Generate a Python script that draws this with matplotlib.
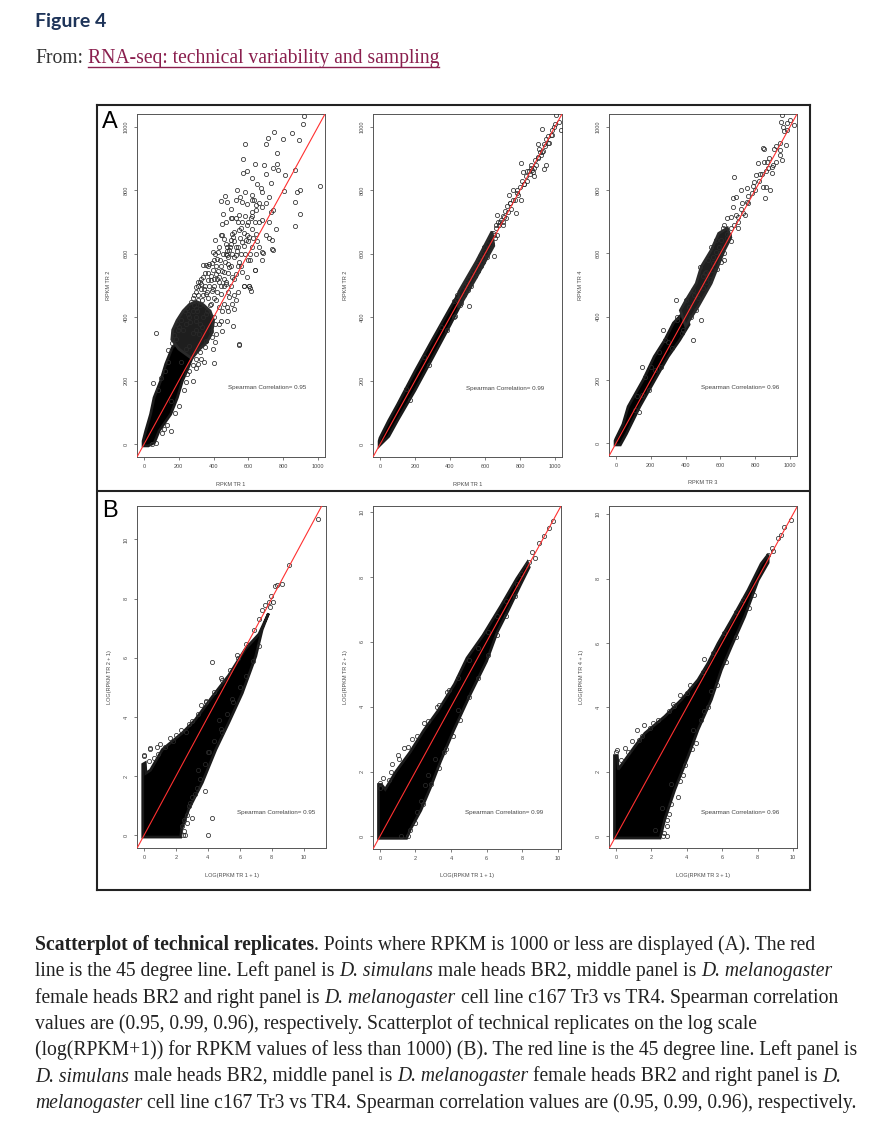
import numpy as np
import matplotlib.pyplot as plt

W, H = 880, 1126

# ---- panel A (raw RPKM) ----
a_ticks = [0, 200, 400, 600, 800, 1000]

a1_core_x = [-5, 25, 60, 87, 154, 192, 221, 250, 275, 230, 190, 163, 125, 96, 58, 38, 10, -5]
a1_core_y = [-5, -5, 5, 42, 95, 147, 200, 235, 270, 300, 320, 305, 253, 200, 147, 95, 42, 10]
a1_mid_x = [160, 200, 275, 320, 360, 390, 400, 380, 340, 300, 260, 225, 190, 165]
a1_mid_y = [330, 300, 270, 300, 320, 350, 390, 420, 440, 450, 440, 420, 390, 360]
a1_points = [
    (918, 1035), (914, 1008), (745, 982), (711, 966), (852, 979), (800, 961), (893, 958), (699, 947),
    (582, 946), (766, 916), (570, 899), (690, 879), (640, 884), (766, 884), (772, 863), (868, 863),
    (567, 855), (808, 848), (1011, 814), (732, 823), (534, 800), (579, 794), (672, 807), (680, 795),
    (881, 795), (899, 802), (803, 798), (466, 782), (441, 766), (565, 762), (634, 768), (646, 753),
    (868, 763), (508, 714), (527, 714), (456, 724), (739, 737), (898, 724), (866, 686), (761, 677),
    (734, 644), (676, 605), (738, 614), (596, 579), (638, 549), (575, 500), (607, 492), (603, 500),
    (510, 374), (546, 314), (351, 305), (408, 323), (67, 349), (402, 256), (54, 192), (157, 137),
    (115, 47), (105, 37),
    (460, 647), (498, 642), (479, 621), (527, 621), (565, 637), (603, 653), (623, 679), (594, 689),
    (546, 674), (508, 663), (479, 595), (517, 589), (546, 574), (489, 558), (450, 547), (412, 537),
    (383, 516), (431, 511), (469, 511), (508, 526), (565, 542), (594, 526), (393, 484), (441, 474),
    (489, 463), (354, 474), (335, 453), (383, 442), (431, 432), (479, 432), (527, 453), (307, 421),
    (354, 411), (297, 389), (259, 400), (402, 400), (441, 389), (335, 368), (383, 358), (412, 347),
    (354, 326), (316, 347), (450, 358), (479, 389), (508, 442), (623, 621), (642, 600), (680, 579),
    (546, 721), (498, 711), (450, 695), (565, 700), (613, 711), (623, 732), (642, 737), (680, 747),
    (680, 705), (718, 700), (728, 732), (623, 768), (594, 758), (527, 768), (479, 763), (623, 784),
    (661, 700), (421, 584),
    (138, 298), (192, 379), (198, 360), (237, 421), (250, 429), (298, 400), (269, 447), (308, 453),
    (298, 479), (327, 505), (308, 511), (337, 526), (365, 516), (356, 563), (375, 568), (404, 579),
    (337, 563), (394, 605), (423, 605), (410, 644), (471, 632), (510, 653), (490, 611), (538, 621),
    (529, 595), (481, 568), (462, 542), (433, 526), (529, 537), (471, 505), (394, 489), (413, 453),
    (462, 442), (515, 426), (548, 316), (390, 337), (356, 326), (394, 300), (308, 253), (346, 258),
    (260, 232), (279, 200), (240, 195), (154, 42), (67, 3), (48, 0), (577, 500), (606, 500),
    (615, 484), (635, 549), (683, 602), (740, 613), (587, 642), (644, 661), (577, 665),
    (160, 320), (175, 345), (185, 330), (200, 370), (215, 390), (225, 360), (240, 380), (255, 410),
    (265, 385), (280, 420), (290, 440), (300, 430), (310, 470), (320, 440), (330, 490), (340, 470),
    (350, 500), (360, 480), (365, 540), (375, 500), (385, 530), (395, 550), (405, 520), (415, 560),
    (425, 545), (435, 580), (445, 560), (455, 600), (465, 575), (475, 610), (485, 590), (495, 620),
    (505, 600), (520, 640), (535, 610), (550, 650), (560, 600), (575, 625), (590, 660), (610, 600),
    (625, 650), (280, 350), (300, 360), (320, 380), (340, 400), (360, 420), (380, 440), (400, 460),
    (420, 480), (440, 500), (460, 520), (480, 540), (500, 560), (240, 300), (260, 310), (215, 260),
    (250, 220), (280, 250), (300, 270), (320, 290), (330, 270), (300, 240), (120, 230), (140, 260),
    (100, 210), (80, 170), (200, 120), (230, 170), (180, 100), (130, 60),
    (430, 620), (450, 660), (470, 600), (500, 630), (520, 670), (540, 700), (560, 680), (580, 720),
    (600, 700), (620, 720), (640, 700), (660, 760), (700, 760), (720, 780), (650, 820), (620, 840),
    (700, 850), (740, 870), (590, 860), (550, 780), (500, 740), (470, 700), (440, 660), (410, 600),
    (390, 570), (370, 560), (350, 540), (330, 520), (310, 500), (290, 470), (280, 460), (300, 495),
    (320, 510), (345, 490), (370, 460), (400, 500), (420, 520), (460, 500), (480, 480), (500, 500),
    (520, 520), (540, 560), (560, 560), (580, 600), (600, 640), (610, 580), (650, 640), (660, 620),
    (700, 660), (720, 650), (540, 480), (520, 470), (480, 420), (450, 420), (430, 380), (410, 380),
]

a2_core_x = [-5, 50, 100, 200, 300, 400, 470, 460, 400, 300, 200, 100, 50, 0, -5]
a2_core_y = [-5, 25, 75, 170, 272, 375, 450, 485, 428, 330, 230, 125, 75, 20, 10]
a2_mid_x = [450, 550, 650, 640, 550, 450]
a2_mid_y = [430, 525, 625, 670, 575, 480]
a2_points = [
    (480, 470), (495, 505), (510, 520), (520, 500), (530, 545), (540, 530), (555, 560), (560, 545),
    (570, 590), (575, 560), (585, 600), (590, 575), (600, 620), (605, 600), (612, 590), (620, 640),
    (625, 615), (633, 656), (640, 630), (648, 665), (655, 650), (660, 680), (668, 660), (672, 700),
    (680, 690), (690, 705), (700, 720), (705, 690), (712, 735), (720, 712), (728, 750), (737, 784),
    (745, 760), (750, 740), (762, 800), (770, 770), (778, 728), (785, 800), (790, 785), (805, 887),
    (805, 770), (812, 830), (817, 858), (825, 820), (835, 845), (840, 830), (850, 860), (856, 850),
    (862, 880), (870, 865), (876, 858), (878, 844), (885, 895), (892, 880), (902, 944), (905, 905),
    (912, 920), (920, 910), (923, 992), (930, 925), (938, 947), (938, 868), (946, 879), (950, 960),
    (958, 950), (965, 949), (975, 974), (985, 990), (995, 1000), (1008, 1037), (1020, 1015),
    (1035, 990), (670, 721), (595, 621), (652, 593), (570, 592), (506, 435), (440, 470), (455, 440),
    (420, 450), (430, 405),
    (420, 400), (440, 455), (460, 445), (480, 500), (500, 485), (520, 535), (540, 560), (560, 580),
    (580, 570), (600, 590), (610, 630), (630, 620), (650, 660), (665, 690), (685, 700), (700, 700),
    (710, 715), (730, 730), (740, 760), (760, 770), (780, 790), (800, 810), (820, 820), (840, 860),
    (860, 870), (880, 870), (900, 900), (910, 930), (925, 920), (940, 940), (960, 970), (980, 975),
    (1000, 1010), (350, 370), (380, 360), (250, 275), (280, 250), (150, 175), (170, 140),
]

a3_core_x = [-5, 25, 60, 137, 223, 300, 366, 420, 400, 330, 280, 220, 156, 70, 40, 0, -5]
a3_core_y = [-5, -5, 30, 116, 200, 274, 326, 375, 420, 380, 326, 274, 200, 116, 60, 15, 8]
a3_mid_x = [400, 470, 547, 585, 623, 660, 640, 590, 547, 490, 461, 400, 370]
a3_mid_y = [370, 430, 505, 558, 610, 650, 680, 663, 610, 558, 505, 450, 420]
a3_points = [
    (956, 1037), (947, 1016), (981, 1013), (1023, 1005), (966, 987), (975, 942), (943, 926),
    (943, 911), (956, 895), (918, 889), (851, 928), (842, 934), (848, 889), (817, 886), (899, 874),
    (876, 868), (899, 853), (806, 847), (794, 826), (785, 813), (844, 811), (861, 808), (884, 800),
    (859, 774), (676, 840), (752, 805), (718, 800), (690, 779), (670, 774), (670, 747), (722, 758),
    (752, 763), (728, 726), (703, 716), (661, 716), (638, 711), (619, 689), (617, 679), (661, 679),
    (648, 658), (604, 642), (575, 642), (547, 621), (575, 605), (528, 579), (604, 574), (509, 537),
    (550, 547), (480, 558), (442, 484), (404, 453), (419, 432), (461, 421), (343, 453), (352, 400),
    (442, 326), (385, 358), (270, 358), (280, 326), (223, 232), (166, 211), (150, 242), (147, 153),
    (109, 105), (490, 389), (830, 850), (870, 890), (910, 930), (780, 790), (760, 780), (700, 700),
    (690, 720), (640, 650), (620, 600), (590, 620), (560, 590), (520, 510), (500, 530),
    (430, 400), (450, 470), (470, 460), (500, 490), (520, 540), (540, 520), (560, 570), (580, 550),
    (600, 600), (620, 580), (640, 660), (660, 640), (680, 690), (700, 680), (720, 740), (740, 720),
    (760, 760), (800, 800), (820, 830), (840, 850), (860, 860), (880, 900), (900, 880), (920, 940),
    (940, 950), (960, 1000), (980, 990), (1000, 1020), (300, 320), (320, 300), (350, 390),
    (380, 350), (250, 290), (260, 240), (200, 240), (190, 170), (120, 150), (130, 100),
]

# ---- panel B (log(RPKM + 1)) ----
b_ticks = [0, 2, 4, 6, 8, 10]

b1_core_x = [-0.08, -0.08, 0.08, 0.12, 0.4, 1.15, 2.4, 3.2, 4.3, 5.3, 6.35, 7.2, 7.8,
             7.4, 7.0, 6.15, 5.3, 4.5, 3.65, 2.8, 2.35, 2.3, -0.08]
b1_core_y = [-0.06, 2.4, 2.45, 2.1, 2.2, 2.9, 3.46, 3.9, 4.7, 5.4, 6.3, 6.8, 7.5,
             6.95, 6.05, 4.8, 3.8, 2.9, 1.78, 0.88, 0.2, -0.06, -0.06]
b1_points = [
    (10.9, 10.7), (9.06, 9.15), (8.65, 8.5), (8.33, 8.47), (8.23, 8.41), (7.98, 8.1), (7.8, 7.9),
    (7.6, 7.8), (7.4, 7.6), (7.2, 7.3), (8.1, 7.9), (7.9, 7.7), (4.23, 5.85), (4.69, 3.91),
    (3.85, 1.5), (4.23, 0.6), (3.98, 0.0), (2.56, 0.0), (2.45, 0.0), (0.38, 2.9), (0.0, 2.73),
    (0.0, 2.68), (0.4, 2.96), (0.8, 3.0), (1.0, 3.1), (1.6, 3.3), (2.0, 3.4), (2.8, 3.75),
    (3.6, 4.4), (2.8, 1.0), (3.0, 1.3), (3.3, 1.6), (3.0, 0.6), (2.5, 0.5), (2.4, 0.3), (2.7, 0.4),
    (4.9, 3.5), (5.5, 4.6), (3.9, 4.55), (4.8, 5.3), (5.8, 6.1), (3.4, 2.2), (4.0, 2.8),
    (0.3, 2.5), (0.6, 2.6), (0.9, 2.75), (1.3, 3.0), (1.8, 3.2), (2.3, 3.55), (2.6, 3.5),
    (3.0, 3.85), (3.4, 4.1), (3.9, 4.5), (4.4, 4.85), (4.9, 5.25), (5.4, 5.6), (5.9, 6.0),
    (6.4, 6.45), (6.9, 6.95), (2.5, 0.15), (2.7, 0.7), (2.9, 1.1), (3.2, 1.4), (3.5, 1.9),
    (3.8, 2.4), (4.1, 2.8), (4.4, 3.2), (4.8, 3.6), (5.2, 4.1), (5.6, 4.5), (6.0, 5.0), (6.4, 5.4),
    (6.8, 5.9), (7.2, 6.4),
]

b2_core_x = [-0.08, -0.08, 0.08, 0.3, 0.9, 1.7, 2.47, 3.3, 4.2, 4.9, 5.8, 6.8, 7.7, 8.3,
             8.4, 7.9, 7.2, 6.6, 6.0, 5.1, 4.15, 3.4, 2.84, 2.3, 1.7, 1.5, -0.08]
b2_core_y = [-0.06, 1.6, 1.6, 1.45, 2.0, 2.6, 3.27, 3.9, 4.7, 5.5, 6.2, 7.1, 7.95, 8.45,
             8.3, 7.75, 6.95, 6.3, 5.4, 4.4, 3.27, 2.3, 1.5, 0.8, 0.2, -0.06, -0.06]
b2_points = [
    (9.76, 9.73), (9.23, 9.28), (8.97, 9.04), (8.54, 8.76), (8.39, 8.45), (8.3, 8.36), (7.94, 8.08),
    (7.7, 7.77), (8.7, 8.6), (9.5, 9.5), (1.35, 2.73), (0.69, 2.23), (0.5, 1.74), (0.0, 1.64),
    (0.0, 1.5), (2.09, 0.74), (2.56, 1.58), (1.57, 0.0), (1.2, 0.0), (2.3, 1.1), (2.7, 1.9),
    (3.1, 2.4), (1.0, 2.5), (1.8, 3.0), (2.5, 3.5), (3.2, 4.0), (3.9, 4.5), (4.4, 3.9), (3.6, 2.6),
    (0.2, 1.8), (0.6, 2.0), (1.1, 2.4), (1.6, 2.75), (2.1, 3.1), (2.7, 3.55), (3.3, 4.05),
    (3.8, 4.45), (4.4, 4.9), (5.0, 5.45), (5.5, 5.8), (6.1, 6.3), (6.6, 6.8), (7.1, 7.25),
    (1.7, 0.2), (2.0, 0.4), (2.4, 1.0), (2.9, 1.6), (3.3, 2.1), (3.7, 2.7), (4.1, 3.1), (4.5, 3.6),
    (5.0, 4.3), (5.5, 4.9), (6.1, 5.6), (6.6, 6.2), (7.1, 6.8), (7.6, 7.4),
]

b3_core_x = [-0.08, -0.08, 0.08, 0.13, 1.07, 1.64, 2.76, 3.7, 4.64, 5.2, 5.77, 6.52, 7.46, 8.21,
             8.6, 8.6, 8.03, 7.27, 6.52, 5.96, 5.39, 4.64, 4.08, 3.33, 2.76, 2.5, -0.08]
b3_core_y = [-0.06, 2.5, 2.5, 2.07, 2.79, 3.2, 3.72, 4.24, 4.86, 5.37, 5.99, 6.71, 7.64, 8.47,
             8.75, 8.5, 7.95, 6.82, 5.89, 5.17, 4.24, 3.31, 2.48, 1.45, 0.52, -0.06, -0.06]
b3_points = [
    (9.87, 9.83), (9.49, 9.61), (9.15, 9.27), (8.82, 8.94), (8.59, 8.73), (8.9, 8.85), (9.3, 9.35),
    (4.36, 3.31), (1.45, 3.1), (0.51, 2.74), (0.04, 2.69), (0.0, 2.6), (2.58, 0.88), (2.67, 0.0),
    (2.86, 0.0), (2.2, 0.19), (3.14, 1.63), (0.9, 2.95), (1.2, 3.3), (1.6, 3.45), (2.1, 3.5),
    (3.0, 3.9), (3.2, 4.1), (3.6, 4.4), (4.2, 4.7), (2.9, 0.3), (3.0, 0.7), (3.5, 1.2), (3.8, 1.9),
    (4.5, 2.9), (5.0, 3.9), (5.4, 4.5), (5.0, 5.5),
    (0.3, 2.35), (0.7, 2.6), (1.3, 3.0), (1.9, 3.35), (2.4, 3.6), (3.3, 4.05), (4.0, 4.45),
    (4.9, 5.1), (5.5, 5.7), (6.1, 6.3), (6.8, 6.95), (7.2, 7.35), (2.7, 0.1), (2.9, 0.5),
    (3.1, 1.0), (3.6, 1.7), (3.9, 2.2), (4.3, 2.7), (4.8, 3.6), (5.2, 4.0), (5.7, 4.7), (6.2, 5.4),
    (6.8, 6.2), (7.5, 7.1), (7.8, 7.5),
]

spearman = [0.95, 0.99, 0.96]

panels = [
    dict(box=(137, 114, 325, 457), xlim=(-40, 1040), ylim=(-40, 1040), ticks=a_ticks,
         core=(a1_core_x, a1_core_y), mid=(a1_mid_x, a1_mid_y), pts=a1_points,
         xl='RPKM TR 1', yl='RPKM TR 2', r=spearman[0], tpos=(705, 178)),
    dict(box=(373, 114, 562, 457), xlim=(-40, 1040), ylim=(-40, 1040), ticks=a_ticks,
         core=(a2_core_x, a2_core_y), mid=(a2_mid_x, a2_mid_y), pts=a2_points,
         xl='RPKM TR 1', yl='RPKM TR 2', r=spearman[1], tpos=(712, 177)),
    dict(box=(609, 114, 797, 456), xlim=(-40, 1040), ylim=(-40, 1040), ticks=a_ticks,
         core=(a3_core_x, a3_core_y), mid=(a3_mid_x, a3_mid_y), pts=a3_points,
         xl='RPKM TR 3', yl='RPKM TR 4', r=spearman[2], tpos=(712, 177)),
    dict(box=(137, 506, 326, 848), xlim=(-0.44, 11.4), ylim=(-0.43, 11.13), ticks=b_ticks,
         core=(b1_core_x, b1_core_y), mid=None, pts=b1_points,
         xl='LOG(RPKM TR 1 + 1)', yl='LOG(RPKM TR 2 + 1)', r=spearman[0], tpos=(8.3, 0.77)),
    dict(box=(373, 506, 561, 849), xlim=(-0.39, 10.19), ylim=(-0.39, 10.19), ticks=b_ticks,
         core=(b2_core_x, b2_core_y), mid=None, pts=b2_points,
         xl='LOG(RPKM TR 1 + 1)', yl='LOG(RPKM TR 2 + 1)', r=spearman[1], tpos=(7.0, 0.75)),
    dict(box=(609, 506, 797, 848), xlim=(-0.39, 10.23), ylim=(-0.37, 10.26), ticks=b_ticks,
         core=(b3_core_x, b3_core_y), mid=None, pts=b3_points,
         xl='LOG(RPKM TR 3 + 1)', yl='LOG(RPKM TR 4 + 1)', r=spearman[2], tpos=(7.0, 0.72)),
]


def px_box(l, t, r, b):
    return [l / W, 1 - b / H, (r - l) / W, (b - t) / H]


fig = plt.figure(figsize=(W / 100, H / 100), dpi=100)
fig.patch.set_facecolor('white')
sans = 'Liberation Sans'
serif = 'Liberation Serif'
grey = '#4a4a4a'

# outer frame of the figure image
frame = fig.add_axes(px_box(97, 105, 810, 890))
frame.set_xticks([])
frame.set_yticks([])
frame.set_facecolor('none')
for s in frame.spines.values():
    s.set_linewidth(1.5)
    s.set_color('#222222')
frame.axhline((890 - 491) / (890 - 105), color='#222222', lw=1.5)

for p in panels:
    ax = fig.add_axes(px_box(*p['box']))
    ax.fill(*p['core'], fc='black', ec='#1a1a1a', lw=2.0, zorder=2)
    if p['mid'] is not None:
        ax.fill(*p['mid'], fc='#1e1e1e', ec='#2a2a2a', lw=2.0, zorder=2)
    pts = np.array(p['pts'], dtype=float)
    ax.plot(pts[:, 0], pts[:, 1], 'o', ms=3.0, mfc='none', mec='#2a2a2a', mew=0.55, zorder=3)
    ax.axline((0, 0), slope=1, color='#ff3030', lw=0.8, zorder=4)
    ax.set_xlim(*p['xlim'])
    ax.set_ylim(*p['ylim'])
    ax.set_xticks(p['ticks'])
    ax.set_yticks(p['ticks'])
    ax.tick_params(direction='out', length=2.2, width=0.5, color=grey,
                   labelsize=4.0, labelcolor=grey)
    ax.tick_params(axis='x', pad=3.0)
    ax.tick_params(axis='y', pad=4.0, labelrotation=90)
    for lab in ax.get_yticklabels():
        lab.set_verticalalignment('center')
        lab.set_family(sans)
    for lab in ax.get_xticklabels():
        lab.set_family(sans)
    for s in ax.spines.values():
        s.set_linewidth(0.7)
        s.set_color('#555555')
    ax.annotate(p['xl'], xy=(0.5, 0), xycoords='axes fraction', xytext=(0, -27 * 0.72),
                textcoords='offset points', ha='center', va='center', fontsize=4.0,
                color=grey, family=sans)
    ax.annotate(p['yl'], xy=(0, 0.5), xycoords='axes fraction', xytext=(-28 * 0.72, 0),
                textcoords='offset points', ha='center', va='center', fontsize=4.0,
                color=grey, family=sans, rotation=90)
    ax.text(*p['tpos'], 'Spearman Correlation= %.2f' % p['r'], ha='center', va='center',
            fontsize=4.5, color='#444444', family=sans, zorder=5)

fig.text(110 / W, 1 - 122 / H, 'A', fontsize=17, family=sans, ha='center', va='center')
fig.text(110 / W, 1 - 511 / H, 'B', fontsize=17, family=sans, ha='center', va='center')

# ---- page text ----
renderer = fig.canvas.get_renderer()
cap_size = 14.1


def style_kw(kind, size):
    kw = dict(fontsize=size, family=serif, color='#222222')
    if kind == 'b':
        kw['weight'] = 'bold'
    if kind == 'i':
        kw['style'] = 'italic'
    return kw


def width_of(txt, kind, size):
    t = fig.text(0, 0, txt, **style_kw(kind, size))
    w = t.get_window_extent(renderer).width
    t.remove()
    return w


def write_line(y_px, parts, x_px=35, size=cap_size, color=None):
    x = x_px
    for txt, kind in parts:
        space = width_of('x x', kind, size) - width_of('xx', kind, size)
        if txt.startswith(' '):
            x += space
        kw = style_kw(kind, size)
        if color:
            kw['color'] = color
        t = fig.text(x / W, 1 - y_px / H, txt.strip(), ha='left', va='baseline', **kw)
        x += t.get_window_extent(renderer).width
        if txt.endswith(' '):
            x += space
    return x


fig.text(35 / W, 1 - 27 / H, 'Figure 4', fontsize=14, family='Lato', weight='bold',
         color='#1e3459', ha='left', va='baseline')
x_end = write_line(63, [('From: ', 'r')], color='#333333')
link = 'RNA-seq: technical variability and sampling'
t = fig.text(x_end / W, 1 - 63 / H, link, ha='left', va='baseline',
             **dict(style_kw('r', cap_size), color='#8a1f4e'))
bb = t.get_window_extent(renderer)
fig.add_artist(plt.Line2D([bb.x0 / W, bb.x1 / W], [1 - 67 / H, 1 - 67 / H],
                          color='#8a1f4e', lw=1.0))

caption = [
    [('Scatterplot of technical replicates', 'b'),
     ('. Points where RPKM is 1000 or less are displayed (A). The red', 'r')],
    [('line is the 45 degree line. Left panel is ', 'r'), ('D. simulans', 'i'),
     (' male heads BR2, middle panel is ', 'r'), ('D. melanogaster', 'i')],
    [('female heads BR2 and right panel is ', 'r'), ('D. melanogaster', 'i'),
     (' cell line c167 Tr3 vs TR4. Spearman correlation', 'r')],
    [('values are (0.95, 0.99, 0.96), respectively. Scatterplot of technical replicates on the log scale', 'r')],
    [('(log(RPKM+1)) for RPKM values of less than 1000) (B). The red line is the 45 degree line. Left panel is', 'r')],
    [('D. simulans', 'i'), (' male heads BR2, middle panel is ', 'r'), ('D. melanogaster', 'i'),
     (' female heads BR2 and right panel is ', 'r'), ('D.', 'i')],
    [('melanogaster', 'i'),
     (' cell line c167 Tr3 vs TR4. Spearman correlation values are (0.95, 0.99, 0.96), respectively.', 'r')],
]
for i, parts in enumerate(caption):
    write_line(950 + i * 26.3, parts)

fig.savefig('out.png', dpi=100)
